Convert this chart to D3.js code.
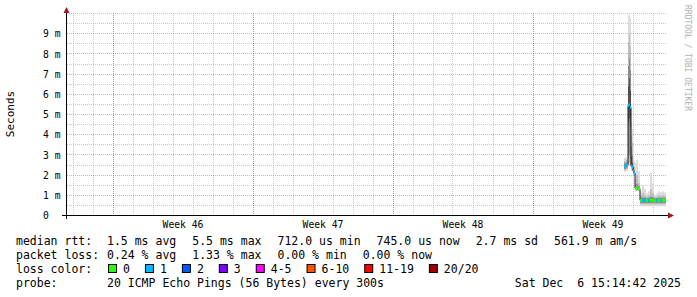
<!DOCTYPE html>
<html>
<head>
<meta charset="utf-8">
<script src="https://cdn.jsdelivr.net/npm/d3@7"></script>
<style>
body { margin: 0; background: #fff; }
svg text { font-family: "DejaVu Sans Mono", monospace; white-space: pre; }
</style>
</head>
<body>
<div id="chart"></div>
<script>
// step start times (each step lasts until the next one), median rtt in ms, lost pings of 20
const stepTimes = [
    "2025-12-04T13:12", "2025-12-04T15:36", "2025-12-04T18:00", "2025-12-04T19:12",
    "2025-12-04T20:24", "2025-12-04T21:36", "2025-12-04T22:48", "2025-12-05T00:00",
    "2025-12-05T01:12", "2025-12-05T02:24", "2025-12-05T03:36", "2025-12-05T06:00",
    "2025-12-05T08:24", "2025-12-05T10:48", "2025-12-05T13:12", "2025-12-05T15:36",
    "2025-12-05T18:00", "2025-12-05T20:24", "2025-12-05T22:48", "2025-12-06T01:12",
    "2025-12-06T03:36", "2025-12-06T06:00", "2025-12-06T08:24", "2025-12-06T10:48",
    "2025-12-06T13:12"
];
const endTime = "2025-12-06T15:14";
const medianMs = [2.45, 2.5, 5.45, 5.5, 5.35, 2.45, 2.4, 2.2, 2.1, 1.35, 1.35, 1.33,
    0.75, 0.74, 0.76, 0.74, 0.75, 0.76, 0.74, 0.73, 0.75, 0.74, 0.75, 0.75, 0.745];
const lossCount = [1, 1, 1, 1, 1, 1, 1, 1, 1, 0, 0, 0, 0, 1, 1, 0, 1, 0, 0, 0, 1, 0, 1, 0, 0];
// smoke: min, p10, p25, p40, p60, p75, p90, max (ms)
const smoke = [
    [2.15, 2.25, 2.3, 2.4, 2.5, 2.6, 2.7, 2.85],
    [2.2, 2.3, 2.38, 2.45, 2.55, 2.62, 2.75, 2.9],
    [2.4, 2.55, 2.9, 4.6, 6.4, 7.4, 8.6, 9.9],
    [2.45, 2.6, 3.0, 4.8, 6.8, 7.8, 9.0, 9.95],
    [2.4, 2.5, 2.8, 4.4, 6.2, 7.2, 8.4, 9.8],
    [2.2, 2.3, 2.4, 2.45, 2.9, 3.4, 4.0, 4.6],
    [2.2, 2.25, 2.3, 2.35, 2.6, 3.0, 3.6, 4.3],
    [2.0, 2.05, 2.1, 2.15, 2.3, 2.45, 2.7, 3.2],
    [1.95, 2.0, 2.03, 2.06, 2.15, 2.25, 2.4, 2.7],
    [1.2, 1.25, 1.28, 1.32, 1.4, 1.5, 1.8, 2.6],
    [1.2, 1.24, 1.27, 1.31, 1.4, 1.55, 2.0, 2.75],
    [1.2, 1.24, 1.27, 1.3, 1.38, 1.45, 1.6, 2.2],
    [0.45, 0.55, 0.62, 0.7, 0.8, 0.88, 1.0, 1.2],
    [0.45, 0.55, 0.62, 0.7, 0.8, 0.9, 1.1, 1.5],
    [0.45, 0.55, 0.62, 0.7, 0.8, 0.88, 1.0, 1.3],
    [0.45, 0.55, 0.62, 0.7, 0.8, 0.86, 0.95, 1.1],
    [0.45, 0.55, 0.62, 0.7, 0.8, 0.88, 1.0, 1.2],
    [0.45, 0.55, 0.63, 0.7, 0.82, 0.92, 1.3, 2.1],
    [0.45, 0.55, 0.62, 0.7, 0.8, 0.9, 1.1, 1.6],
    [0.45, 0.55, 0.62, 0.69, 0.78, 0.85, 0.92, 1.0],
    [0.45, 0.55, 0.62, 0.7, 0.8, 0.86, 0.95, 1.1],
    [0.45, 0.55, 0.62, 0.7, 0.8, 0.88, 1.0, 1.2],
    [0.45, 0.55, 0.62, 0.7, 0.8, 0.87, 0.98, 1.15],
    [0.45, 0.55, 0.62, 0.7, 0.8, 0.88, 1.0, 1.2],
    [0.45, 0.55, 0.62, 0.7, 0.8, 0.87, 0.98, 1.15]
];

const viewStart = "2025-11-06T16:48";
const viewEnd = "2025-12-06T16:48";
const yTicks = [0, 1, 2, 3, 4, 5, 6, 7, 8, 9];
const yMinor = [0.5, 1.5, 2.5, 3.5, 4.5, 5.5, 6.5, 7.5, 8.5, 9.5, 10];
const weekStarts = ["2025-11-09T00:00", "2025-11-16T00:00", "2025-11-23T00:00", "2025-11-30T00:00"];
const weekLabels = ["Week 46", "Week 47", "Week 48", "Week 49"];

const lossClasses = ["0", "1", "2", "3", "4-5", "6-10", "11-19", "20/20"];
const lossUpper = [0, 1, 2, 3, 5, 10, 19, 20];
const lossColors = ["#26ff00", "#00b8ff", "#0059ff", "#7e00ff", "#ff00ff", "#ff5500", "#ff0000", "#a00000"];

const rttStats = ["1.5 ms avg", "5.5 ms max", "712.0 us min", "745.0 us now", "2.7 ms sd", "561.9 m am/s"];
const lossStats = ["0.24 % avg", "1.33 % max", "0.00 % min", "0.00 % now"];
const probeText = "20 ICMP Echo Pings (56 Bytes) every 300s";
const stampText = "Sat Dec  6 15:14:42 2025";

const parse = d3.timeParse("%Y-%m-%dT%H:%M");
const W = 697, H = 297;

const svg = d3.select("#chart").append("svg")
    .attr("width", W).attr("height", H);

const x = d3.scaleTime()
    .domain([parse(viewStart), parse(viewEnd)])
    .range([67, 667]);
const y = d3.scaleLinear()
    .domain([0, 10])
    .range([215.5, 13.5]);
const px = v => Math.floor(v) + 0.5;

// grid
const grid = svg.append("g");
grid.selectAll("line.hmin").data(yMinor).enter().append("line")
    .attr("x1", 67).attr("x2", 667)
    .attr("y1", d => px(y(d))).attr("y2", d => px(y(d)))
    .attr("stroke", "rgba(140,140,140,0.45)").attr("stroke-dasharray", "1,1");
grid.selectAll("line.vmin").data(d3.timeDay.range(x.domain()[0], x.domain()[1])).enter().append("line")
    .attr("x1", d => px(x(d))).attr("x2", d => px(x(d)))
    .attr("y1", 13).attr("y2", 215)
    .attr("stroke", "rgba(140,140,140,0.45)").attr("stroke-dasharray", "1,1");
grid.selectAll("line.hmaj").data(yTicks.slice(1)).enter().append("line")
    .attr("x1", 67).attr("x2", 667)
    .attr("y1", d => px(y(d))).attr("y2", d => px(y(d)))
    .attr("stroke", "rgba(200,60,60,0.45)").attr("stroke-dasharray", "1,1");
grid.selectAll("line.vmaj").data(weekStarts).enter().append("line")
    .attr("x1", d => px(x(parse(d)))).attr("x2", d => px(x(parse(d))))
    .attr("y1", 13).attr("y2", 215)
    .attr("stroke", "rgba(200,60,60,0.45)").attr("stroke-dasharray", "1,1");

// smoke
const t0 = stepTimes.map(parse);
const t1 = t0.slice(1).concat([parse(endTime)]);
const steps = t0.map((t, i) => ({
    x0: Math.round(x(t)), x1: Math.round(x(t1[i])),
    med: medianMs[i], loss: lossCount[i], q: smoke[i]
}));
const smokeFill = ["#dcdcdc", "#bdbdbd", "#8c8c8c", "#505050"];
smokeFill.forEach((fill, k) => {
    svg.append("g").selectAll("rect").data(steps).enter().append("rect")
        .attr("x", d => d.x0)
        .attr("width", d => Math.max(1, d.x1 - d.x0))
        .attr("y", d => y(d.q[7 - k]))
        .attr("height", d => y(d.q[k]) - y(d.q[7 - k]))
        .attr("fill", fill);
});

// median line
const medPts = steps.map(d => [d.x0, d.med]).concat([[steps[steps.length - 1].x1, medianMs[medianMs.length - 1]]]);
svg.append("path")
    .attr("d", d3.line().x(d => d[0]).y(d => y(d[1])).curve(d3.curveStepAfter)(medPts))
    .attr("fill", "none").attr("stroke", "#202020").attr("stroke-width", 1);

// loss coloured median bands
const lossIndex = n => lossUpper.findIndex(u => n <= u);
svg.append("g").selectAll("rect").data(steps).enter().append("rect")
    .attr("x", d => d.x0)
    .attr("width", d => Math.max(1, d.x1 - d.x0))
    .attr("y", d => y(d.med) - 1.5)
    .attr("height", 3)
    .attr("fill", d => lossColors[lossIndex(d.loss)]);

// axes
const yAxis = svg.append("g")
    .attr("transform", "translate(66.5,0)")
    .call(d3.axisLeft(y).tickValues(yTicks).tickSize(0).tickPadding(6)
        .tickFormat(d => d === 0 ? "0  " : d + " m"));
yAxis.select(".domain").remove();
yAxis.selectAll("text").attr("font-size", "9.7px").attr("font-family", "DejaVu Sans Mono").attr("fill", "#000");

svg.append("line").attr("x1", 62).attr("x2", 669).attr("y1", 215.5).attr("y2", 215.5).attr("stroke", "#000");
svg.append("line").attr("x1", 66.5).attr("x2", 66.5).attr("y1", 219).attr("y2", 12).attr("stroke", "#000");
svg.append("path").attr("d", "M668,212.5L674,215.5L668,218.5Z").attr("fill", "#a01818");
svg.append("path").attr("d", "M63.5,13L66.5,7L69.5,13Z").attr("fill", "#a01818");

svg.append("g").selectAll("text").data(weekStarts).enter().append("text")
    .attr("x", d => x(d3.timeHour.offset(parse(d), 84)))
    .attr("y", 228)
    .attr("text-anchor", "middle")
    .attr("font-size", "9.7px")
    .text((d, i) => weekLabels[i]);

svg.append("text")
    .attr("transform", "translate(14,114) rotate(-90)")
    .attr("text-anchor", "middle")
    .attr("font-size", "11px")
    .text("Seconds");

svg.append("text")
    .attr("transform", "translate(685,5) rotate(90)")
    .attr("font-size", "8px")
    .attr("fill", "#b0b0b0")
    .text("RRDTOOL / TOBI OETIKER");

// legend
const legend = svg.append("g").attr("font-size", "11.5px");
function row(label, yb) {
    legend.append("text").attr("x", 16).attr("y", yb).text(label);
}
function items(list, yb) {
    let cx = 107;
    list.forEach(s => {
        const t = legend.append("text").attr("x", cx).attr("y", yb).text(s);
        cx += t.node().getComputedTextLength() + 16;
    });
}
row("median rtt:", 245);
items(rttStats, 245);
row("packet loss:", 259);
items(lossStats, 259);
row("loss color:", 273);
let bx = 108;
lossClasses.forEach((s, i) => {
    legend.append("rect").attr("x", bx + 0.5).attr("y", 264.5).attr("width", 8).attr("height", 8)
        .attr("fill", lossColors[i]).attr("stroke", "#000");
    const t = legend.append("text").attr("x", bx + 15).attr("y", 273).text(s);
    bx += 15 + t.node().getComputedTextLength() + 15;
});
row("probe:", 287);
legend.append("text").attr("x", 107).attr("y", 287).text(probeText);
legend.append("text").attr("x", 681).attr("y", 287).attr("text-anchor", "end").text(stampText);
</script>
</body>
</html>
